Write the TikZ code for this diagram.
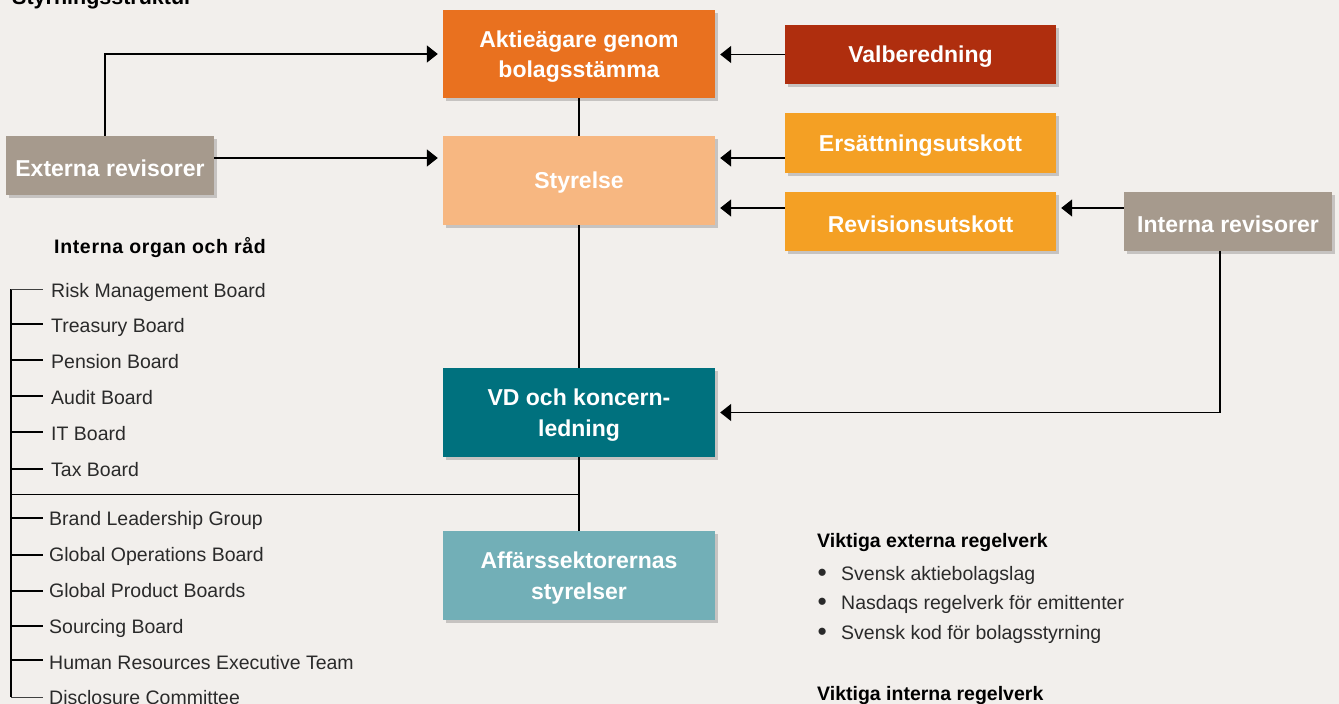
\documentclass[tikz,border=0pt]{standalone}
\usepackage{fontspec}
\setmainfont{Liberation Sans}
\usetikzlibrary{arrows.meta,shadows}
\definecolor{bg}{HTML}{F2EFEC}
\definecolor{cAkt}{HTML}{E9711F}
\definecolor{cVal}{HTML}{AF2E0E}
\definecolor{cSty}{HTML}{F7B781}
\definecolor{cUts}{HTML}{F4A024}
\definecolor{cRev}{HTML}{A69A8D}
\definecolor{cVD}{HTML}{00717E}
\definecolor{cAff}{HTML}{72AFB7}
\definecolor{txt}{HTML}{2A2A2A}
\newcommand{\mybul}{\makebox[24pt][l]{\hspace{0.5pt}\raisebox{-1.6pt}{\scalebox{1.35}{•}}}}
\begin{document}
\begin{tikzpicture}[x=1pt,y=-1pt,
  box/.style={draw=none, inner sep=0pt,
    drop shadow={shadow xshift=3pt, shadow yshift=-3pt, opacity=0.18, fill=black}},
  btext/.style={text=white, font=\fontsize{23}{30.5}\selectfont\bfseries, align=center, inner sep=0pt, yshift=-2.5pt},
  conn/.style={line width=1.6pt, black},
  thinconn/.style={line width=0.9pt, black!75},
  arr/.style={conn, -{Triangle[length=11pt,width=17pt]}, shorten >=5pt},
  item/.style={anchor=base west, inner sep=0pt, font=\fontsize{19.5}{22}\selectfont, text=txt},
  head/.style={anchor=base west, inner sep=0pt, font=\fontsize{19.5}{22}\selectfont\bfseries, text=black},
]
\fill[bg] (0,0) rectangle (1339,704);
\useasboundingbox (0,0) rectangle (1339,704);

% title (cut off at top)
\node[anchor=base west, inner sep=0pt, font=\fontsize{21.5}{24}\selectfont\bfseries] (title) at (12,5) {Styrningsstruktur};

% boxes
\node[box, fill=cAkt, minimum width=272pt, minimum height=88pt,
  label={[btext]center:{Aktieägare genom\\bolagsstämma}}] (akt) at (579,54) {};
\node[box, fill=cVal, minimum width=271pt, minimum height=59pt,
  label={[btext]center:Valberedning}] (val) at (920.5,54.5) {};
\node[box, fill=cSty, minimum width=272pt, minimum height=89pt,
  label={[btext]center:Styrelse}] (sty) at (579,180.5) {};
\node[box, fill=cUts, minimum width=271pt, minimum height=60pt,
  label={[btext]center:Ersättningsutskott}] (ers) at (920.5,143) {};
\node[box, fill=cUts, minimum width=271pt, minimum height=59pt,
  label={[btext]center:Revisionsutskott}] (rev) at (920.5,221.5) {};
\node[box, fill=cRev, minimum width=208pt, minimum height=59pt,
  label={[btext]center:Externa revisorer}] (ext) at (110,165.5) {};
\node[box, fill=cRev, minimum width=208pt, minimum height=59pt,
  label={[btext]center:Interna revisorer}] (intr) at (1228,221.5) {};
\node[box, fill=cVD, minimum width=272pt, minimum height=89pt,
  label={[btext]center:{VD och koncern-\\ledning}}] (vd) at (579,412.5) {};
\node[box, fill=cAff, minimum width=272pt, minimum height=89pt,
  label={[btext]center:{Affärssektorernas\\styrelser}}] (aff) at (579,575.5) {};

% vertical chain
\draw[conn] (akt.south) -- (sty.north);
\draw[conn] (sty.south) -- (vd.north);
\draw[conn] (vd.south) -- (aff.north);

% arrows
\draw[arr] ([xshift=-5pt]ext.north) |- (akt.west);
\draw[arr] ([yshift=7.5pt]ext.east) coordinate (e1) -- (sty.west |- e1);
\draw[arr] (val.west) -- (akt.east |- val.west);
\draw[arr] ([yshift=-15pt]ers.west) coordinate (e2) -- (sty.east |- e2);
\draw[arr] ([yshift=13.5pt]rev.west) coordinate (e3) -- (sty.east |- e3);
\draw[arr] ([yshift=13.5pt]intr.west) coordinate (e4) -- (rev.east |- e4);
\draw[arr] ([xshift=-8pt]intr.south) |- (vd.east);

% internal bodies list
\node[head, font=\fontsize{19.5}{22}\selectfont\bfseries\addfontfeatures{LetterSpace=3.4}] (ioh) at (54,253) {Interna organ och råd};
\node[item] (i1) at (51,297) {Risk Management Board};
\node[item] (i2) at (51,332) {Treasury Board};
\node[item] (i3) at (51,368) {Pension Board};
\node[item] (i4) at (51,404) {Audit Board};
\node[item] (i5) at (51,440) {IT Board};
\node[item] (i6) at (51,476) {Tax Board};
\node[item] (i7) at (49,525) {Brand Leadership Group};
\node[item] (i8) at (49,561) {Global Operations Board};
\node[item] (i9) at (49,597) {Global Product Boards};
\node[item] (i10) at (49,633) {Sourcing Board};
\node[item] (i11) at (49,669) {Human Resources Executive Team};
\node[item] (i12) at (49,704) {Disclosure Committee};

\foreach \k/\y in {1/289,2/324,3/360,4/396,5/432,6/469,7/518,8/555,9/591,10/626,11/660,12/697}
  \coordinate (t\k) at (11,\y);
\coordinate (tj) at (11,494.5);

\draw[conn] (t1) -- (t12);
\draw[thinconn] (t1) -- (t1 -| 43,0);
\draw[thinconn] (t12) -- (t12 -| 43,0);
\foreach \k in {2,...,11}
  \draw[conn] (t\k) -- (t\k -| 43,0);
\draw[conn] (tj) -- (vd.south |- tj);

% external / internal regulations
\node[head] (ext1) at (817,547) {Viktiga externa regelverk};
\node[item] (b1) at (817,580) {\mybul Svensk aktiebolagslag};
\node[item] (b2) at (817,609) {\mybul Nasdaqs regelverk för emittenter};
\node[item] (b3) at (817,639) {\mybul Svensk kod för bolagsstyrning};
\node[head] (int1) at (817,700) {Viktiga interna regelverk};
\end{tikzpicture}
\end{document}
